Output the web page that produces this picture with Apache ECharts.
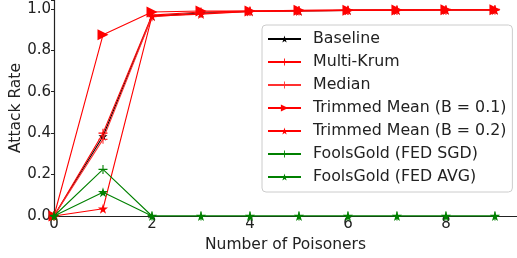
<!DOCTYPE html>
<html><head><meta charset="utf-8">
<script src="https://cdn.jsdelivr.net/npm/echarts@6/dist/echarts.min.js"></script>
<style>html,body{margin:0;padding:0;background:#fff}#c{width:517px;height:258px}</style>
</head><body><div id="c"></div>
<script>
const poisoners = [0,1,2,3,4,5,6,7,8,9];
const baseline   = [0, 0.385, 0.965, 0.980, 0.988, 0.990, 0.993, 0.994, 0.995, 0.995];
const multiKrum  = [0, 0.400, 0.970, 0.985, 0.990, 0.992, 0.994, 0.995, 0.995, 0.996];
const median     = [0, 0.370, 0.962, 0.978, 0.988, 0.990, 0.992, 0.994, 0.995, 0.995];
const tm01       = [0, 0.875, 0.985, 0.990, 0.990, 0.993, 0.994, 0.995, 0.996, 0.996];
const tm02       = [0, 0.035, 0.965, 0.975, 0.988, 0.990, 0.993, 0.994, 0.995, 0.995];
const fgSgd      = [0, 0.225, 0, 0, 0, 0, 0, 0, 0, 0];
const fgAvg      = [0, 0.115, 0, 0, 0, 0, 0, 0, 0, 0];
const xTicks = [0,2,4,6,8];
const yTicks = [0,0.2,0.4,0.6,0.8,1.0];

const STAR = 'path://M50,0 L61,35 L98,35 L68,57 L79,91 L50,70 L21,91 L32,57 L2,35 L39,35 Z';
const PLUS = 'path://M4.4,0 L5.6,0 L5.6,4.4 L10,4.4 L10,5.6 L5.6,5.6 L5.6,10 L4.4,10 L4.4,5.6 L0,5.6 L0,4.4 L4.4,4.4 Z';
const TRI = 'path://M0,0 L10,5 L0,10 Z';
const FONT = 'DejaVu Sans';

function mk(name, vals, color, symbol, size, z) {
  return {
    name, type: 'line', data: poisoners.map((x, i) => [x, vals[i]]),
    symbol, symbolSize: size, showAllSymbol: true, z: z,
    lineStyle: { color, width: 1.1 }, itemStyle: { color, borderWidth: 0 },
    emphasis: { disabled: true }, animation: false
  };
}

const chart = echarts.init(document.getElementById('c'), null, { renderer: 'canvas' });
chart.setOption({
  animation: false,
  grid: { left: 54, right: 0, top: 0, bottom: 42, containLabel: false, outerBoundsMode: 'none' },
  xAxis: {
    type: 'value', min: 0, max: 9.45, interval: 2,
    name: 'Number of Poisoners', nameLocation: 'middle', nameGap: 21,
    nameTextStyle: { fontFamily: FONT, fontSize: 15.5, color: '#222' },
    axisLine: { lineStyle: { color: '#222', width: 1.2 } },
    axisTick: { show: true, length: 3, lineStyle: { color: '#222' } },
    axisLabel: { fontFamily: FONT, fontSize: 15, color: '#222', margin: 1,
      formatter: v => xTicks.includes(v) ? String(v) : '' },
    splitLine: { show: false }
  },
  yAxis: {
    type: 'value', min: 0, max: 1.043, interval: 0.2,
    name: 'Attack Rate', nameLocation: 'middle', nameGap: 30, nameRotate: 90,
    nameMoveOverlap: false,
    nameTextStyle: { fontFamily: FONT, fontSize: 15.5, color: '#222' },
    axisLine: { show: true, lineStyle: { color: '#222', width: 1.2 } },
    axisTick: { show: true, length: 3, lineStyle: { color: '#222' } },
    axisLabel: { fontFamily: FONT, fontSize: 15, color: '#222', margin: 3,
      formatter: v => yTicks.some(t => Math.abs(t - v) < 1e-6) ? v.toFixed(1) : '' },
    splitLine: { show: false }
  },
  legend: {
    left: 262, top: 25, orient: 'vertical',
    itemWidth: 33, itemHeight: 9, itemGap: 7,
    padding: [6, 6, 7, 5],
    borderColor: '#ccc', borderWidth: 1, borderRadius: 4,
    backgroundColor: 'rgba(255,255,255,0.8)',
    textStyle: { fontFamily: FONT, fontSize: 15.8, color: '#222', padding: [0,0,0,7] },
    data: ['Baseline','Multi-Krum','Median','Trimmed Mean (B = 0.1)','Trimmed Mean (B = 0.2)','FoolsGold (FED SGD)','FoolsGold (FED AVG)']
  },
  series: [
    mk('Baseline', baseline, '#000000', STAR, 9, 2),
    mk('Multi-Krum', multiKrum, '#ff0000', PLUS, 9, 3),
    mk('Median', median, '#ff3030', PLUS, 9, 4),
    mk('Trimmed Mean (B = 0.1)', tm01, '#ff0000', TRI, 11, 5),
    mk('Trimmed Mean (B = 0.2)', tm02, '#ff0000', STAR, 10, 6),
    mk('FoolsGold (FED SGD)', fgSgd, '#008000', PLUS, 9, 7),
    mk('FoolsGold (FED AVG)', fgAvg, '#008000', STAR, 10, 8)
  ]
});
</script></body></html>
